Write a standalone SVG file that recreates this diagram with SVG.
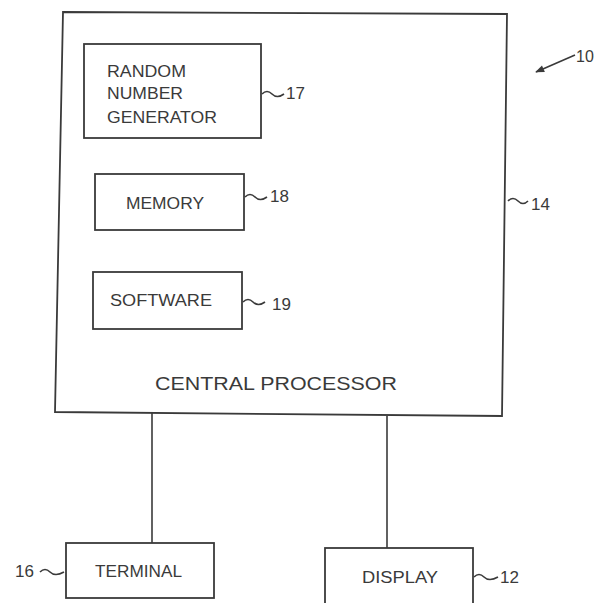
<svg xmlns="http://www.w3.org/2000/svg" width="595" height="603" viewBox="0 0 595 603">
<style>
.box{fill:none;stroke:#3a3a3a;stroke-width:1.8}
.ln{fill:none;stroke:#3a3a3a;stroke-width:1.6}
.t{font-family:"Liberation Sans",Arial,sans-serif;font-size:16px;fill:#3a3a3a}
.n{font-family:"Liberation Sans",Arial,sans-serif;font-size:17px;fill:#3a3a3a}
</style>
<defs>
<marker id="ah" viewBox="0 0 10 10" refX="9" refY="5" markerWidth="10" markerHeight="9" orient="auto" markerUnits="userSpaceOnUse">
<path d="M0,1 L10,5 L0,9 Z" fill="#3a3a3a"/>
</marker>
</defs>
<rect width="595" height="603" fill="#fff"/>
<g id="central-processor">
<polygon class="box" points="63,12 507,14 502,416 55,412"/>
<text class="t" x="155" y="390" textLength="242" lengthAdjust="spacingAndGlyphs" style="font-size:18px">CENTRAL PROCESSOR</text>
<path class="ln" d="M508,201 q5,-5 10,0 t10,0"/>
<text class="n" x="531" y="210">14</text>
</g>
<g id="rng">
<rect class="box" x="84" y="44" width="177" height="94"/>
<text class="t" x="107" y="77" textLength="79" lengthAdjust="spacingAndGlyphs">RANDOM</text>
<text class="t" x="107" y="99" textLength="76" lengthAdjust="spacingAndGlyphs">NUMBER</text>
<text class="t" x="107" y="123" textLength="110" lengthAdjust="spacingAndGlyphs">GENERATOR</text>
<path class="ln" d="M262,94 q5,-5 10,0 t12,0"/>
<text class="n" x="286" y="99">17</text>
</g>
<g id="memory">
<rect class="box" x="95" y="174" width="149" height="56"/>
<text class="t" x="126" y="209" textLength="78" lengthAdjust="spacingAndGlyphs">MEMORY</text>
<path class="ln" d="M245,197 q5,-5 10,0 t12,0"/>
<text class="n" x="270" y="202">18</text>
</g>
<g id="software">
<rect class="box" x="93" y="272" width="149" height="57"/>
<text class="t" x="110" y="306" textLength="102" lengthAdjust="spacingAndGlyphs">SOFTWARE</text>
<path class="ln" d="M243,302 q5,-5 10,0 t12,0"/>
<text class="n" x="272" y="310">19</text>
</g>
<g id="terminal">
<rect class="box" x="66" y="543" width="148" height="55"/>
<text class="t" x="95" y="577" textLength="87" lengthAdjust="spacingAndGlyphs">TERMINAL</text>
<path class="ln" d="M40,572 q5,-5 10,0 t14,0"/>
<text class="n" x="15" y="577">16</text>
</g>
<g id="display">
<rect class="box" x="325" y="548" width="148" height="58"/>
<text class="t" x="362" y="583" textLength="76" lengthAdjust="spacingAndGlyphs">DISPLAY</text>
<path class="ln" d="M474,577 q5,-5 10,0 t14,0"/>
<text class="n" x="500" y="583">12</text>
</g>
<g id="system-label">
<text class="n" x="576" y="62" style="font-size:16px">10</text>
</g>
<g id="connectors">
<line class="ln" x1="152" y1="413" x2="152" y2="543"/>
<line class="ln" x1="387" y1="416" x2="387" y2="548"/>
<line class="ln" x1="575" y1="55" x2="536" y2="72" marker-end="url(#ah)"/>
</g>
</svg>
